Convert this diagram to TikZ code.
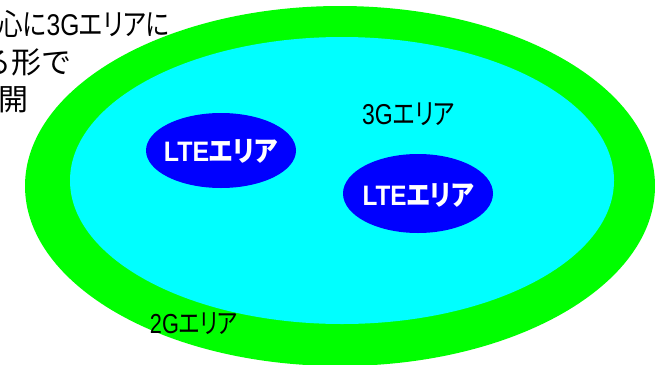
\documentclass[tikz,border=0pt]{standalone}
\usepackage{fontspec}
\usepackage{graphicx}
\setmainfont{Noto Sans CJK JP}
\newfontfamily\kanafont{Noto Sans CJK JP}[RawFeature=+palt]
\newfontfamily\latinfont{Liberation Sans}

\definecolor{zonetwog}{RGB}{0,255,0}
\definecolor{zonethreeg}{RGB}{0,255,255}
\definecolor{zonelte}{RGB}{0,0,255}

\begin{document}
\begin{tikzpicture}[x=1pt,y=-1pt,
  areatext/.style={inner sep=0pt, text=black},
  ltetext/.style={inner sep=0pt, text=white, font=\bfseries},
  note/.style={inner sep=0pt, text=black, anchor=base east,
    font=\fontsize{30pt}{36pt}\selectfont}]
\useasboundingbox (0,0) rectangle (655,364);
\clip (0,0) rectangle (655,364);

% centres of the coverage areas
\coordinate (area2g) at (340,186);
\coordinate (area3g) at (342,180.5);
\coordinate (lte1) at (221,150.5);
\coordinate (lte2) at (418,193.5);

% nested coverage areas
\fill[zonetwog] (area2g) ellipse [x radius=315pt, y radius=180pt];
\fill[zonethreeg] (area3g) ellipse [x radius=272pt, y radius=143.5pt];
\fill[zonelte] (lte1) ellipse [x radius=75pt, y radius=37.5pt];
\fill[zonelte] (lte2) ellipse [x radius=75pt, y radius=39.5pt];

% area labels
\node[areatext] (label3g) at (408.5,114.5)
  {\resizebox*{93pt}{23pt}{{\latinfont 3G}{\kanafont エリア}}};
\node[areatext] (label2g) at (194,324)
  {\resizebox*{88pt}{22pt}{{\latinfont 2G}{\kanafont エリア}}};
\node[ltetext] (labellte1) at ([yshift=-0.5pt]lte1)
  {\resizebox*{114pt}{24pt}{{\latinfont\bfseries LTE}{\kanafont\bfseries エリア}}};
\node[ltetext] (labellte2) at ([yshift=-1.5pt]lte2)
  {\resizebox*{111pt}{24pt}{{\latinfont\bfseries LTE}{\kanafont\bfseries エリア}}};

% explanatory note
\node[note] (note1) at (170,35)
  {\scalebox{0.82}[1]{\kanafont 心に{\latinfont 3G}エリアに}};
\node[note] (note2) at (72,73) {る形で};
\node[note] (note3) at (29,110) {開};
\end{tikzpicture}
\end{document}
